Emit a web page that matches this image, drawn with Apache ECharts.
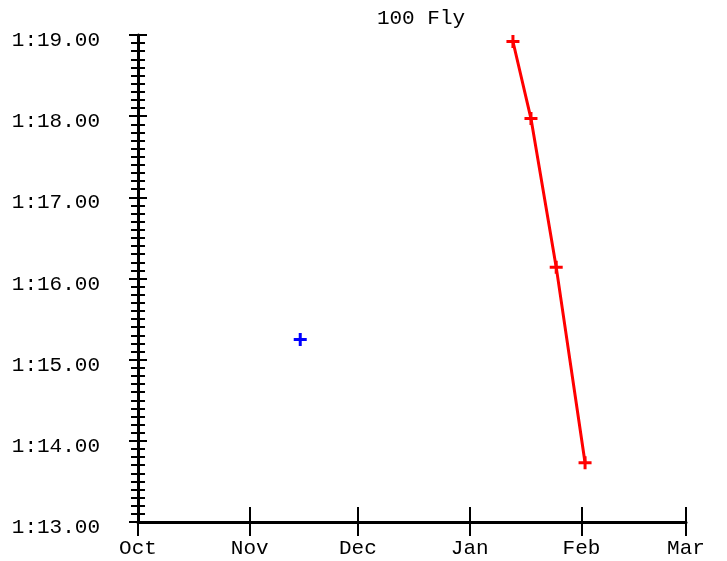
<!DOCTYPE html>
<html>
<head>
<meta charset="utf-8">
<script src="https://cdn.jsdelivr.net/npm/echarts@6/dist/echarts.min.js"></script>
<style>html,body{margin:0;padding:0;background:#fff}#c{width:727px;height:561px}</style>
</head>
<body>
<div id="c"></div>
<script>
var titleText = '100 Fly';
var monthTicks = ['2023-10-01','2023-11-01','2023-12-01','2024-01-01','2024-02-01','2024-03-01'];
var monthLabels = ['Oct','Nov','Dec','Jan','Feb','Mar'];
var blueDates = ['2023-11-15'];
var blueTimes = [75.25];
var redDates = ['2024-01-13','2024-01-18','2024-01-25','2024-02-02'];
var redTimes = [78.92, 77.97, 76.14, 73.73];
var yMin = 73, yMax = 79;

// day number since the first month tick (UTC, so no timezone drift)
function dayNum(s){
  var p = s.split('-');
  var t = Date.UTC(+p[0], +p[1]-1, +p[2]);
  var q = monthTicks[0].split('-');
  return (t - Date.UTC(+q[0], +q[1]-1, +q[2])) / 86400000;
}
var tickDays = monthTicks.map(dayNum);
function fmtTime(v){
  var m = Math.floor(v/60 + 1e-9); var s = v - m*60;
  var ss = s.toFixed(2); if (s < 10) ss = '0' + ss;
  return m + ':' + ss;
}
function monthLabel(v){
  for (var i=0;i<tickDays.length;i++) if (Math.abs(tickDays[i]-v) < 0.5) return monthLabels[i];
  return '';
}
var font = 'Liberation Mono';
var cross = 'path://M-1.5,-6.5H1.5V-1.5H6.5V1.5H1.5V6.5H-1.5V1.5H-6.5V-1.5H-1.5Z';

var chart = echarts.init(document.getElementById('c'), null, {renderer:'canvas'});
var xBase = {
  type:'value', gridIndex:0, position:'bottom', min: tickDays[0], max: tickDays[tickDays.length-1],
  splitLine:{show:false}
};
var yBase = { type:'value', gridIndex:0, position:'left', min:yMin, max:yMax, interval:1, splitLine:{show:false} };
chart.setOption({
  animation:false,
  backgroundColor:'#fff',
  title:{ text:titleText, left:416, top:3, textAlign:'center',
    textStyle:{fontFamily:font, fontSize:21, fontWeight:'normal', color:'#000'} },
  grid:{ left:138, right:41, top:35, bottom:39, containLabel:false, outerBoundsMode:'none' },
  xAxis:[
    Object.assign({}, xBase, {
      axisLine:{show:true, lineStyle:{color:'#000', width:3}},
      axisTick:{show:true, inside:false, length:14, lineStyle:{color:'#000', width:2}, customValues: tickDays},
      axisLabel:{show:true, margin:16, fontFamily:font, fontSize:21, color:'#000', customValues: tickDays,
        formatter:function(v){return monthLabel(v);}, showMinLabel:true, showMaxLabel:true}
    }),
    Object.assign({}, xBase, {
      axisLine:{show:false},
      axisTick:{show:true, inside:true, length:15, lineStyle:{color:'#000', width:2}, customValues: tickDays},
      axisLabel:{show:false}
    })
  ],
  yAxis:[
    Object.assign({}, yBase, {
      axisLine:{show:true, lineStyle:{color:'#000', width:3}},
      axisTick:{show:true, inside:false, length:9, lineStyle:{color:'#000', width:2}},
      minorTick:{show:true, splitNumber:10, length:7, lineStyle:{color:'#000', width:2}},
      axisLabel:{show:true, margin:38, fontFamily:font, fontSize:21, color:'#000',
        verticalAlign:'top', lineHeight:11,
        formatter:function(v){return fmtTime(v);}}
    }),
    Object.assign({}, yBase, {
      axisLine:{show:false},
      axisTick:{show:true, inside:true, length:9, lineStyle:{color:'#000', width:2}},
      minorTick:{show:true, splitNumber:10, length:7, lineStyle:{color:'#000', width:2}},
      axisLabel:{show:false}
    })
  ],
  series:[
    { type:'scatter', xAxisIndex:0, yAxisIndex:0, symbol:cross, symbolSize:13,
      itemStyle:{color:'#0000ff', opacity:1},
      data: blueDates.map(function(d,i){return [dayNum(d), blueTimes[i]];}) },
    { type:'line', xAxisIndex:0, yAxisIndex:0, symbol:cross, symbolSize:13, showSymbol:true,
      itemStyle:{color:'#ff0000', opacity:1}, lineStyle:{color:'#ff0000', width:3},
      data: redDates.map(function(d,i){return [dayNum(d), redTimes[i]];}) }
  ]
});
</script>
</body>
</html>
